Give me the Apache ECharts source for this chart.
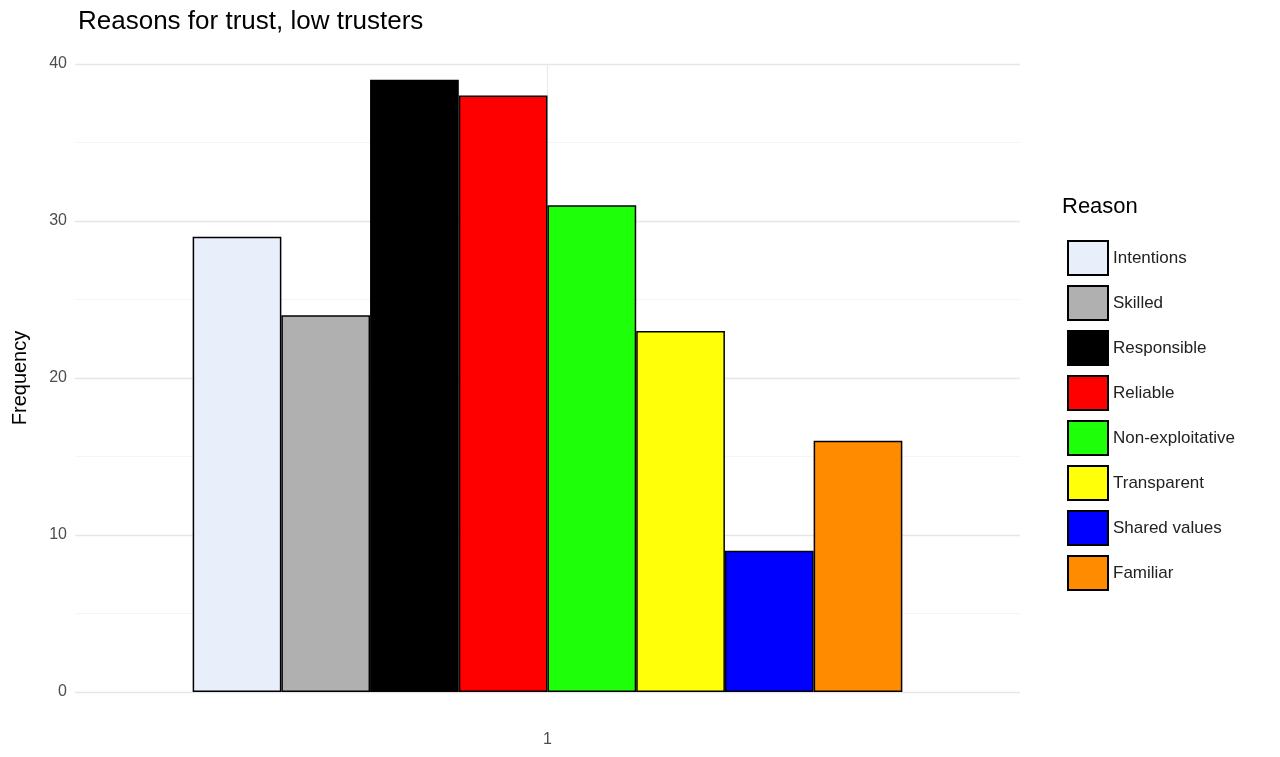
<!DOCTYPE html>
<html><head><meta charset="utf-8">
<script src="https://cdn.jsdelivr.net/npm/echarts@6/dist/echarts.min.js"></script>
<style>html,body{margin:0;padding:0;background:#fff}#c{width:1280px;height:757px}</style>
</head><body><div id="c"></div>
<script>
const categories = ['1'];
const reasons = ['Intentions','Skilled','Responsible','Reliable','Non-exploitative','Transparent','Shared values','Familiar'];
const values = [29,24,39,38,31,23,9,16];
const colors = ['#E8EFFA','#B0B0B0','#000000','#FF0000','#1EFF0A','#FFFF0A','#0000FF','#FF8C00'];

const chart = echarts.init(document.getElementById('c'));
const series = reasons.map((r,i)=>({
  name:r, type:'bar', data:[values[i]], barGap:'0%', barCategoryGap:'24.9%', z:2,
  itemStyle:{color:colors[i], borderColor:'#000', borderWidth:1.5},
  emphasis:{disabled:true}
}));
series.push({type:'line', data:[], z:0, silent:true,
  markLine:{silent:true, symbol:'none', label:{show:false}, z:0,
    lineStyle:{color:'#ebebeb', type:'solid', width:1.3},
    data:[{xAxis:'1'}]}});
chart.setOption({
  animation:false,
  title:{text:'Reasons for trust, low trusters', left:73, top:4,
    textStyle:{fontSize:26, fontWeight:'normal', color:'#000', fontFamily:'Liberation Sans'}},
  graphic:[{type:'text', left:1062, top:196, style:{text:'Reason', fontSize:22, fill:'#000', fontFamily:'Liberation Sans'}}],
  legend:{orient:'vertical', left:1062, top:235, itemWidth:40, itemHeight:34, itemGap:9, icon:'rect',
    textStyle:{fontSize:17, color:'#222', fontFamily:'Liberation Sans'}, selectedMode:false,
    data:reasons},
  grid:{left:75, right:260, top:64, bottom:65},
  xAxis:{type:'category', data:categories, axisLine:{show:false}, axisTick:{show:false},
    axisLabel:{fontSize:16, color:'#4d4d4d', margin:40, fontFamily:'Liberation Sans'}},
  yAxis:{type:'value', min:0, max:40, interval:10,
    name:'Frequency', nameLocation:'middle', nameGap:45, nameRotate:90,
    nameTextStyle:{fontSize:20, color:'#000', fontFamily:'Liberation Sans'},
    axisLabel:{fontSize:16, color:'#4d4d4d', fontFamily:'Liberation Sans'},
    splitLine:{show:true, lineStyle:{color:'#e6e6e6', width:1.4}},
    minorTick:{show:false, splitNumber:2},
    minorSplitLine:{show:true, lineStyle:{color:'#f2f2f2', width:0.8}}},
  series: series
});
</script></body></html>
